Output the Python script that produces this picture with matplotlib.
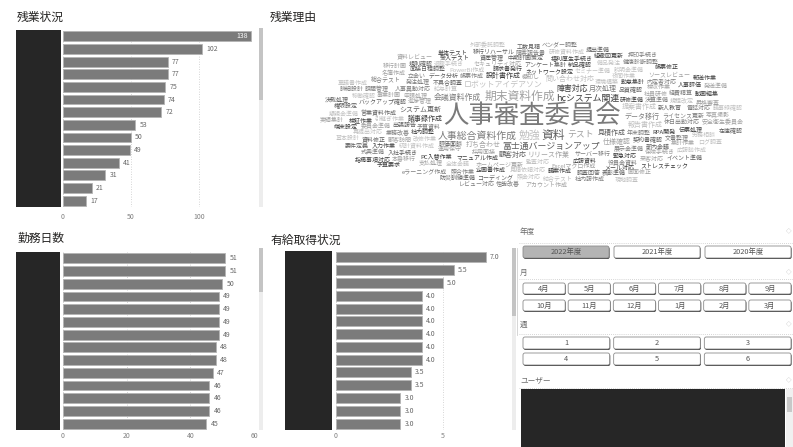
import numpy as np
import matplotlib
matplotlib.use('Agg')
import matplotlib.pyplot as plt
from matplotlib.patches import Rectangle, FancyBboxPatch

plt.rcParams['font.family'] = ['Noto Sans CJK JP', 'DejaVu Sans']

W, H = 793, 447

# 残業状況 (names hidden -> black box)
zangyo = [138, 102, 77, 77, 75, 74, 72, 53, 50, 49, 41, 31, 21, 17]
# 勤務日数
kinmu = [51, 51, 50, 49, 49, 49, 49, 48, 48, 47, 46, 46, 46, 45]
# 有給取得状況
yukyu = [7.0, 5.5, 5.0, 4.0, 4.0, 4.0, 4.0, 4.0, 4.0, 3.5, 3.5, 3.0, 3.0, 3.0]

# slicers
nendo = ['2022年度', '2021年度', '2020年度']
tsuki = ['4月', '5月', '6月', '7月', '8月', '9月',
         '10月', '11月', '12月', '1月', '2月', '3月']
shu = ['1', '2', '3', '4', '5', '6']

# 残業理由 word cloud
words = ['人事審査委員会', '期末資料作成', '資料', '勉強', '人事総合資料作成', 'hcシステム関連', 'テスト', '富士通バージョンアップ', 'ロボットアイデアソン', '会議資料作成',
         '障害対応', '打ち合わせ', '見積作成', '問い合わせ対応', '月次処理', '議事録作成', 'リリース作業', 'システム更新', '提案書作成', 'データ移行',
         '設計書作成', '仕様確認', '顧客対応', '報告書作成', '予算資料', '研修準備', '採用面接', '評価面談', '給与計算', '年末調整',
         '社内調整', '進捗管理', '品質確認', '環境構築', 'サーバー移行', 'ネットワーク設定', '運用保守', '不具合調査', '改修作業', '帳票作成',
         'マニュアル作成', '申請処理', '契約書確認', '監査対応', '決算準備', '請求書発行', '棚卸し', '出張報告', 'セミナー準備', '展示会準備',
         '広報資料', 'ホームページ更新', 'アンケート集計', '統計資料作成', '人事異動対応', '勤怠集計', '社員研修', '新人教育', '引継ぎ作業', '業務改善',
         'RPA開発', 'Excelマクロ作成', 'データ分析', 'PowerBI作成', 'ライセンス更新', 'PC入替作業', 'セキュリティ対応', 'バックアップ確認', '夜間作業', '休日出勤対応',
         '緊急対応', '顧客訪問', '営業資料作成', '見積依頼対応', '発注処理', '納品確認', '検収作業', '部内会議', '全体会議', '役員会資料',
         '企画書作成', '事業計画', '中期計画策定', '規程改定', '文書整理', '議案作成', '委員会準備', '面接日程調整', '説明会準備', '内定者対応',
         '福利厚生手続き', '保険手続き', '入社手続き', '退職手続き', '経費精算', '伝票処理', '支払処理', '資産管理', '備品発注', '電話対応',
         'メール対応', '来客対応', '調査回答', '照会対応', '照合作業', '入力作業', '集計作業', '資料修正', '再提出対応', '課題管理',
         '検証作業', 'ソースレビュー', 'コーディング', '結合テスト', '総合テスト', '受入テスト', '本番移行', '移行リハーサル', '稼働確認', '障害報告書',
         '人事評価', '昇格審査', '表彰準備', '研修資料作成', 'eラーニング作成', '組織図更新', '名簿作成', '規則確認', '労務相談', '健康診断調整',
         'ストレスチェック', '安全衛生委員会', '防災訓練準備', '広報誌作成', '社内報作成', '動画編集', '写真撮影', 'イベント準備', '懇親会準備', '式典準備',
         '端末設定', 'アカウント作成', '権限設定', 'ログ調査', '性能改善', '帳票修正', '画面修正', '要件定義', '基本設計', '詳細設計',
         '単体テスト', '移行計画', '工数見積', '議事録確認', 'レビュー対応', '指摘事項対応', '資料レビュー', '提出準備', '外部委託調整', 'ベンダー調整',
         '予算要求', '実績集計', '決裁処理', '稟議書作成', '押印手続き', '郵送作業', '発送準備', '在庫確認', '現地調査', '立会い']
counts = [23, 9, 9, 8, 7, 6, 6, 6, 5, 5,
          5, 4, 4, 4, 4, 4, 4, 4, 4, 4,
          4, 4, 4, 4, 3, 3, 3, 3, 3, 3,
          3, 3, 3, 3, 3, 3, 3, 3, 3, 3,
          3, 3, 3, 3, 3, 3, 3, 3, 3, 3,
          3, 3, 3, 3, 3, 3, 3, 3, 3, 3,
          3, 3, 3, 3, 3, 3, 3, 3, 3, 3,
          3, 3, 3, 3, 3, 3, 3, 3, 3, 3,
          3, 3, 3, 3, 3, 3, 3, 3, 3, 3,
          3, 3, 3, 3, 3, 3, 3, 3, 3, 3,
          3, 3, 3, 3, 3, 3, 3, 3, 3, 3,
          3, 3, 3, 3, 3, 3, 3, 3, 3, 3,
          3, 3, 3, 3, 3, 3, 3, 3, 3, 3,
          3, 3, 3, 3, 3, 3, 3, 3, 3, 3,
          3, 3, 3, 3, 3, 3, 3, 3, 3, 3,
          3, 3, 3, 3, 3, 3, 3, 3, 3, 3,
          3, 3, 3, 3, 3, 3, 3, 3, 3, 3]

fig = plt.figure(figsize=(W / 100, H / 100), dpi=100)
fig.patch.set_facecolor('white')


def px_rect(x0, y0, x1, y1):
    return [x0 / W, 1 - y1 / H, (x1 - x0) / W, (y1 - y0) / H]


# background axes in pixel coordinates for boxes, titles, slicers
bg = fig.add_axes([0, 0, 1, 1])
bg.set_xlim(0, W)
bg.set_ylim(H, 0)
bg.axis('off')

title_kw = dict(fontsize=8.5, color='#252423', va='center', ha='left')
bg.text(17, 17, '残業状況', **title_kw)
bg.text(270, 17, '残業理由', **title_kw)
bg.text(17, 238, '勤務日数', **title_kw)
bg.text(271, 240, '有給取得状況', **title_kw)


def bar_panel(vals, box, area, xmax, ticks, tick_pad, fmt):
    bx0, by0, bx1, by1 = box
    bg.add_patch(Rectangle((bx0, by0), bx1 - bx0, by1 - by0, color='#262626', lw=0))
    ax = fig.add_axes(px_rect(*area))
    ax.set_facecolor('none')
    n = len(vals)
    pos = np.arange(n)
    ax.barh(pos, vals, height=0.78, color='#7b7b7b', edgecolor='#b4b4b4',
            linewidth=0.6, zorder=2)
    ax.set_ylim(n - 0.5, -0.5)
    ax.set_xlim(0, xmax)
    ax.set_xticks(ticks)
    ax.set_xticklabels([str(t) for t in ticks])
    ax.set_yticks([])
    ax.tick_params(axis='x', length=0, labelsize=5, labelcolor='#808080', pad=tick_pad)
    for s in ax.spines.values():
        s.set_visible(False)
    ax.grid(axis='x', color='#c8c8c8', linestyle=(0, (1, 2)), linewidth=0.6, zorder=0)
    for p, v in zip(pos, vals):
        if v > 0.9 * xmax:
            ax.annotate(fmt(v), (v, p), xytext=(-2, 0), textcoords='offset points',
                        ha='right', va='center', fontsize=5, color='white')
        else:
            ax.annotate(fmt(v), (v, p), xytext=(3, 0), textcoords='offset points',
                        ha='left', va='center', fontsize=5, color='#666666')
    return ax


bar_panel(zangyo, (16, 30, 61, 207), (63, 30, 255, 207), 141, [0, 50, 100], 4.5,
          lambda v: '%d' % v)
bar_panel(kinmu, (16, 252, 60, 430), (63, 252, 254, 430), 60, [0, 20, 40, 60], 1.5,
          lambda v: '%d' % v)
bar_panel(yukyu, (285, 251, 332, 430), (336, 251, 505, 430), 7.9, [0, 5], 1.5,
          lambda v: '%.1f' % v)

# scrollbars
for x, y0, y1, yt in [(259, 28, 207, 100), (259, 248, 430, 292), (512, 248, 430, 316)]:
    bg.add_patch(Rectangle((x, y0), 4, y1 - y0, color='#ededed', lw=0))
    bg.add_patch(Rectangle((x, y0), 4, yt - y0, color='#c4c4c4', lw=0))
bg.plot([516.5, 516.5], [248, 335], color='#d0d0d0', lw=0.6)


# slicer panel
def slicer_header(label, y, yline):
    bg.text(520, y, label, fontsize=5.5, color='#6a6a6a', va='center', ha='left')
    bg.text(789, y, '◇', fontsize=4, color='#b0b0b0', va='center', ha='center')
    bg.plot([519, 793], [yline, yline], color='#c8c8c8', lw=0.6, ls=(0, (1, 1.5)))


def button_row(labels, x0, x1, y0, y1, gap, selected=None):
    n = len(labels)
    bw = (x1 - x0 - gap * (n - 1)) / n
    for i, lab in enumerate(labels):
        bx = x0 + i * (bw + gap)
        bg.add_patch(FancyBboxPatch((bx + 0.6, y0 + 1.0), bw, y1 - y0,
                                    boxstyle='round,pad=0,rounding_size=2',
                                    fc='#3c3c3c', ec='none'))
        fc = '#b4b4b4' if i == selected else 'white'
        bg.add_patch(FancyBboxPatch((bx, y0), bw, y1 - y0,
                                    boxstyle='round,pad=0,rounding_size=2',
                                    fc=fc, ec='#8c8c8c', lw=0.6))
        bg.text(bx + bw / 2, (y0 + y1) / 2, lab, fontsize=5.3, color='#555555',
                ha='center', va='center')


slicer_header('年度', 232, 243)
button_row(nendo, 523, 791, 246, 258, 5, selected=0)
slicer_header('月', 273, 279)
button_row(tsuki[:6], 523, 791, 283, 294, 3)
button_row(tsuki[6:], 523, 791, 300, 311, 3)
slicer_header('週', 325, 334)
button_row(shu[:3], 523, 791, 337, 349, 4)
button_row(shu[3:], 523, 791, 353, 365, 4)
slicer_header('ユーザー', 381, 388)
bg.add_patch(Rectangle((521, 389), 264, H - 389, color='#262626', lw=0))
bg.add_patch(Rectangle((786, 389), 7, H - 389, color='#f0f0f0', lw=0))
bg.add_patch(Rectangle((787, 397), 5, 15, color='#c8c8c8', lw=0))

# word cloud: spiral placement, no overlaps
renderer = fig.canvas.get_renderer()
greys = ['#3c3c3c', '#a0a0a0', '#5e5e5e', '#c0c0c0', '#7a7a7a']
cx, cy = 532, 116
rx, ry = 262, 96
angs = np.arange(0, 460, 0.04)
sx = cx + 0.33 * 2.8 * angs * np.cos(angs)
sy = cy + 0.33 * angs * np.sin(angs)
inside = ((sx - cx) / rx) ** 2 + ((sy - cy) / ry) ** 2 <= 1
boxes = []
order = sorted(range(len(words)), key=lambda i: -counts[i])
for i in order:
    fs = 3.6 + 0.7 * (counts[i] - 2)
    col = '#7a7a7a' if counts[i] > 20 else greys[i % len(greys)]
    t = bg.text(0, 0, words[i], fontsize=fs, color=col, ha='center', va='center')
    bb = t.get_window_extent(renderer=renderer)
    w = bb.width + 0.5
    h = bb.height
    x0c, x1c = sx - w / 2, sx + w / 2
    y0c, y1c = sy - h / 2, sy + h / 2
    ok = inside & (x0c > 274) & (x1c < 790) & (y0c > 23) & (y1c < 210)
    if boxes:
        b = np.array(boxes)
        hit = ((x0c[:, None] < b[:, 2]) & (x1c[:, None] > b[:, 0]) &
               (y0c[:, None] < b[:, 3]) & (y1c[:, None] > b[:, 1]))
        ok &= ~hit.any(axis=1)
    idx = np.flatnonzero(ok)
    if len(idx) == 0:
        t.remove()
        continue
    k = idx[0]
    t.set_position((sx[k], sy[k]))
    boxes.append([x0c[k], y0c[k], x1c[k], y1c[k]])

fig.savefig('out.png', dpi=100)
